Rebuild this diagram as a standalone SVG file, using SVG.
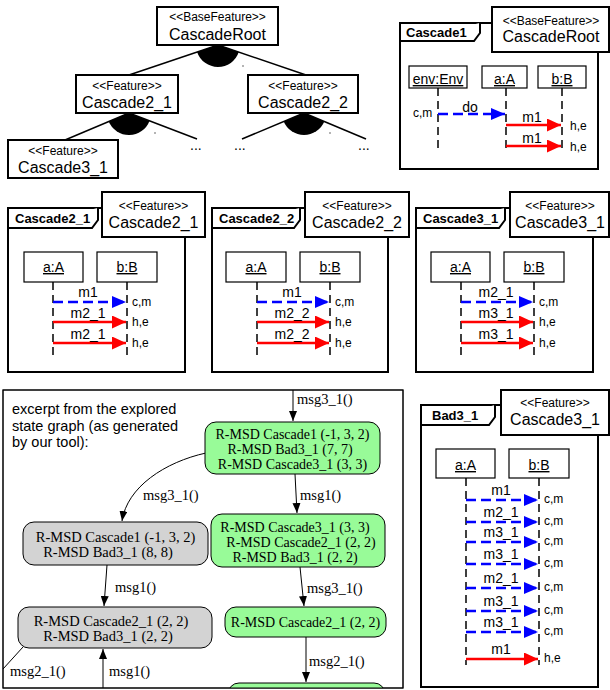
<svg xmlns="http://www.w3.org/2000/svg" width="610" height="690" viewBox="0 0 610 690">
<style>
.box{fill:#fff;stroke:#000;stroke-width:2}
.lb{fill:#fff;stroke:#000;stroke-width:1.2}
.frame{fill:none;stroke:#000;stroke-width:2}
.tabp{fill:#fff;stroke:#000;stroke-width:2}
.ll{stroke:#000;stroke-width:1.5;stroke-dasharray:8 5;fill:none}
.cold{stroke:#0000ff;stroke-width:2.5;stroke-dasharray:10 5;marker-end:url(#ab);fill:none}
.hot{stroke:#ff0000;stroke-width:2.5;marker-end:url(#ar);fill:none}
.tl{stroke:#000;stroke-width:1.5;fill:none}
.sec{fill:#000}
text{font-family:"Liberation Sans",Arial,sans-serif;fill:#000}
.st{font-size:12px;text-anchor:middle}
.nm{font-size:16px;text-anchor:middle}
.tab{font-size:13px;font-weight:bold}
.obj{font-size:14px;text-anchor:middle;text-decoration:underline}
.ml{font-size:14px;text-anchor:middle}
.hc{font-size:12px}
.dots{font-size:14px}
.gf{stroke:#000;stroke-width:1;fill:#98fb98}
.gg{stroke:#000;stroke-width:1;fill:#d3d3d3}
.ge{stroke:#000;stroke-width:1;fill:none;marker-end:url(#ak)}
.gt{font-family:"Liberation Serif","Times New Roman",serif;font-size:14px;text-anchor:middle}
.gtg{font-family:"Liberation Serif","Times New Roman",serif;font-size:14.5px;text-anchor:middle}
.el{font-family:"Liberation Serif","Times New Roman",serif;font-size:14.5px}
.note{font-size:14.5px}
</style>
<defs>
<marker id="ab" markerUnits="userSpaceOnUse" markerWidth="14" markerHeight="12" viewBox="0 0 14 12" refX="14" refY="6" orient="auto"><path d="M0,0 L14,6 L0,12 Z" fill="#0000ff"/></marker>
<marker id="ar" markerUnits="userSpaceOnUse" markerWidth="14" markerHeight="13" viewBox="0 0 14 13" refX="14" refY="6.5" orient="auto"><path d="M0,0 L14,6.5 L0,13 Z" fill="#ff0000"/></marker>
<marker id="ak" markerUnits="userSpaceOnUse" markerWidth="10" markerHeight="8" viewBox="0 0 10 8" refX="10" refY="4" orient="auto"><path d="M0,0 L10,4 L0,8 Z" fill="#000"/></marker>
<clipPath id="gclip"><rect x="3" y="390" width="400" height="298"/></clipPath>
</defs>

<!-- Feature tree -->
<g id="tree-connectors">
<line class="tl" x1="218" y1="45" x2="129" y2="75"/>
<line class="tl" x1="218" y1="45" x2="306" y2="75"/>
<path class="sec" d="M218,45 L197.1,52 A22,22 0 0 0 238.8,52.1 Z"/>
<line class="tl" x1="129" y1="113" x2="65" y2="140"/>
<line class="tl" x1="129" y1="113" x2="197" y2="139"/>
<path class="sec" d="M129,113 L108.7,121.6 A22,22 0 0 0 149.5,120.9 Z"/>
<line class="tl" x1="304" y1="113" x2="242" y2="139"/>
<line class="tl" x1="304" y1="113" x2="366" y2="139"/>
<path class="sec" d="M304,113 L283.7,121.5 A22,22 0 0 0 324.3,121.5 Z"/>
<circle cx="243" cy="66" r="0.8" fill="#555"/>
<circle cx="155" cy="133" r="0.8" fill="#555"/>
<circle cx="330" cy="133" r="0.8" fill="#555"/>
<text class="dots" x="190" y="150">...</text>
<text class="dots" x="234" y="150">...</text>
<text class="dots" x="358" y="150">...</text>
</g>
<g id="feat-root">
<rect class="box" x="157" y="7" width="121" height="38"/>
<text class="st" x="217.5" y="21">&lt;&lt;BaseFeature&gt;&gt;</text>
<text class="nm" x="217.5" y="40">CascadeRoot</text>
</g>
<g id="feat-c21">
<rect class="box" x="76" y="75" width="102" height="38"/>
<text class="st" x="127" y="90">&lt;&lt;Feature&gt;&gt;</text>
<text class="nm" x="127" y="108">Cascade2_1</text>
</g>
<g id="feat-c22">
<rect class="box" x="248" y="75" width="110" height="38"/>
<text class="st" x="303" y="90">&lt;&lt;Feature&gt;&gt;</text>
<text class="nm" x="303" y="108">Cascade2_2</text>
</g>
<g id="feat-c31">
<rect class="box" x="8" y="140" width="110" height="38"/>
<text class="st" x="63" y="155">&lt;&lt;Feature&gt;&gt;</text>
<text class="nm" x="63" y="173">Cascade3_1</text>
</g>

<!-- Cascade1 MSD -->
<g id="msd-cascade1">
<rect class="frame" x="400" y="23" width="198" height="146"/>
<path class="tabp" d="M400,41 H474 L480,33 V23"/>
<text class="tab" x="406" y="37">Cascade1</text>
<rect class="box" x="492" y="7" width="117" height="45"/>
<text class="st" x="551" y="25">&lt;&lt;BaseFeature&gt;&gt;</text>
<text class="nm" x="551" y="42">CascadeRoot</text>
<rect class="lb" x="409" y="66" width="58" height="22"/>
<rect class="lb" x="482" y="66" width="45" height="22"/>
<rect class="lb" x="538" y="66" width="48" height="22"/>
<text class="obj" x="438" y="84">env:Env</text>
<text class="obj" x="504.5" y="84">a:A</text>
<text class="obj" x="562" y="84">b:B</text>
<line class="ll" x1="438" y1="88" x2="438" y2="152"/>
<line class="ll" x1="506" y1="88" x2="506" y2="152"/>
<line class="ll" x1="562" y1="88" x2="562" y2="152"/>
<line class="cold" x1="438" y1="114" x2="505" y2="114"/>
<text class="ml" x="470" y="112">do</text>
<text class="hc" x="413" y="117">c,m</text>
<line class="hot" x1="506" y1="125" x2="561" y2="125"/>
<text class="ml" x="532" y="122">m1</text>
<text class="hc" x="570" y="130">h,e</text>
<line class="hot" x1="506" y1="146" x2="561" y2="146"/>
<text class="ml" x="532" y="143">m1</text>
<text class="hc" x="570" y="151">h,e</text>
</g>

<!-- Cascade2_1 MSD -->
<g id="msd-cascade2-1">
<rect class="frame" x="8" y="208" width="177" height="164"/>
<path class="tabp" d="M8,228 H92 L98,220 V208"/>
<text class="tab" x="15" y="223">Cascade2_1</text>
<rect class="box" x="102" y="192" width="103" height="45"/>
<text class="st" x="153.5" y="210">&lt;&lt;Feature&gt;&gt;</text>
<text class="nm" x="153.5" y="228">Cascade2_1</text>
<rect class="lb" x="24" y="252" width="59" height="30"/>
<rect class="lb" x="97" y="252" width="60" height="30"/>
<text class="obj" x="53.5" y="272">a:A</text>
<text class="obj" x="127" y="272">b:B</text>
<line class="ll" x1="53" y1="282" x2="53" y2="355"/>
<line class="ll" x1="127" y1="282" x2="127" y2="355"/>
<line class="cold" x1="53" y1="302" x2="126" y2="302"/>
<text class="ml" x="88" y="297">m1</text>
<text class="hc" x="132" y="306">c,m</text>
<line class="hot" x1="53" y1="322" x2="126" y2="322"/>
<text class="ml" x="88" y="318">m2_1</text>
<text class="hc" x="132" y="326">h,e</text>
<line class="hot" x1="53" y1="343" x2="126" y2="343"/>
<text class="ml" x="88" y="339">m2_1</text>
<text class="hc" x="132" y="347">h,e</text>
</g>

<!-- Cascade2_2 MSD -->
<g id="msd-cascade2-2">
<rect class="frame" x="212" y="208" width="176" height="164"/>
<path class="tabp" d="M212,228 H294 L300,220 V208"/>
<text class="tab" x="219" y="223">Cascade2_2</text>
<rect class="box" x="305" y="192" width="104" height="45"/>
<text class="st" x="357" y="210">&lt;&lt;Feature&gt;&gt;</text>
<text class="nm" x="357" y="228">Cascade2_2</text>
<rect class="lb" x="226" y="252" width="60" height="30"/>
<rect class="lb" x="300" y="252" width="60" height="30"/>
<text class="obj" x="256" y="272">a:A</text>
<text class="obj" x="330" y="272">b:B</text>
<line class="ll" x1="257" y1="282" x2="257" y2="355"/>
<line class="ll" x1="330" y1="282" x2="330" y2="355"/>
<line class="cold" x1="257" y1="302" x2="329" y2="302"/>
<text class="ml" x="292" y="297">m1</text>
<text class="hc" x="335" y="306">c,m</text>
<line class="hot" x1="257" y1="322" x2="329" y2="322"/>
<text class="ml" x="292" y="318">m2_2</text>
<text class="hc" x="335" y="326">h,e</text>
<line class="hot" x1="257" y1="343" x2="329" y2="343"/>
<text class="ml" x="292" y="339">m2_2</text>
<text class="hc" x="335" y="347">h,e</text>
</g>

<!-- Cascade3_1 MSD -->
<g id="msd-cascade3-1">
<rect class="frame" x="416" y="208" width="177" height="164"/>
<path class="tabp" d="M416,228 H499 L505,220 V208"/>
<text class="tab" x="423" y="223">Cascade3_1</text>
<rect class="box" x="510" y="192" width="99" height="45"/>
<text class="st" x="560" y="210">&lt;&lt;Feature&gt;&gt;</text>
<text class="nm" x="560" y="228">Cascade3_1</text>
<rect class="lb" x="431" y="252" width="59" height="30"/>
<rect class="lb" x="504" y="252" width="60" height="30"/>
<text class="obj" x="460.5" y="272">a:A</text>
<text class="obj" x="534" y="272">b:B</text>
<line class="ll" x1="461" y1="282" x2="461" y2="355"/>
<line class="ll" x1="534" y1="282" x2="534" y2="355"/>
<line class="cold" x1="461" y1="302" x2="533" y2="302"/>
<text class="ml" x="496" y="297">m2_1</text>
<text class="hc" x="539" y="306">c,m</text>
<line class="hot" x1="461" y1="322" x2="533" y2="322"/>
<text class="ml" x="496" y="318">m3_1</text>
<text class="hc" x="539" y="326">h,e</text>
<line class="hot" x1="461" y1="343" x2="533" y2="343"/>
<text class="ml" x="496" y="339">m3_1</text>
<text class="hc" x="539" y="347">h,e</text>
</g>

<!-- Bad3_1 MSD -->
<g id="msd-bad3-1">
<rect class="frame" x="421" y="405" width="177" height="282"/>
<path class="tabp" d="M421,425 H489 L495,417 V405"/>
<text class="tab" x="432" y="420">Bad3_1</text>
<rect class="box" x="501" y="390" width="108" height="45"/>
<text class="st" x="555" y="407">&lt;&lt;Feature&gt;&gt;</text>
<text class="nm" x="555" y="425">Cascade3_1</text>
<rect class="lb" x="436" y="449" width="59" height="29"/>
<rect class="lb" x="509" y="449" width="60" height="29"/>
<text class="obj" x="465.5" y="470">a:A</text>
<text class="obj" x="539" y="470">b:B</text>
<line class="ll" x1="466" y1="478" x2="466" y2="665"/>
<line class="ll" x1="539" y1="478" x2="539" y2="665"/>
<line class="cold" x1="466" y1="500" x2="538" y2="500"/>
<text class="ml" x="501" y="495">m1</text>
<text class="hc" x="544" y="503">c,m</text>
<line class="cold" x1="466" y1="522" x2="538" y2="522"/>
<text class="ml" x="501" y="517">m2_1</text>
<text class="hc" x="544" y="525">c,m</text>
<line class="cold" x1="466" y1="542" x2="538" y2="542"/>
<text class="ml" x="501" y="537">m3_1</text>
<text class="hc" x="544" y="545">c,m</text>
<line class="cold" x1="466" y1="564" x2="538" y2="564"/>
<text class="ml" x="501" y="559">m3_1</text>
<text class="hc" x="544" y="567">c,m</text>
<line class="cold" x1="466" y1="588" x2="538" y2="588"/>
<text class="ml" x="501" y="583">m2_1</text>
<text class="hc" x="544" y="591">c,m</text>
<line class="cold" x1="466" y1="611" x2="538" y2="611"/>
<text class="ml" x="501" y="606">m3_1</text>
<text class="hc" x="544" y="614">c,m</text>
<line class="cold" x1="466" y1="632" x2="538" y2="632"/>
<text class="ml" x="501" y="627">m3_1</text>
<text class="hc" x="544" y="635">c,m</text>
<line class="hot" x1="466" y1="659" x2="538" y2="659"/>
<text class="ml" x="501" y="654">m1</text>
<text class="hc" x="544" y="662">h,e</text>
</g>

<!-- State graph excerpt -->
<g id="state-graph">
<rect x="3" y="390" width="400" height="298" fill="#fff" stroke="#000" stroke-width="1"/>
<text class="note" x="12" y="414">excerpt from the explored</text>
<text class="note" x="12" y="430.5">state graph (as generated</text>
<text class="note" x="12" y="447">by our tool):</text>
<g clip-path="url(#gclip)">
<g id="graph-edges">
<line class="ge" x1="293" y1="390" x2="293" y2="421"/>
<text class="el" x="297" y="404">msg3_1()</text>
<path class="ge" d="M206,453 C165,462 127,487 122,521"/>
<text class="el" x="143" y="500">msg3_1()</text>
<line class="ge" x1="107" y1="565" x2="104" y2="606"/>
<text class="el" x="115" y="592">msg1()</text>
<line class="ge" x1="103" y1="688" x2="103" y2="649"/>
<text class="el" x="109" y="676">msg1()</text>
<line x1="23" y1="647" x2="3" y2="669" stroke="#000" stroke-width="1"/>
<text class="el" x="10" y="676">msg2_1()</text>
<line class="ge" x1="295" y1="474" x2="297" y2="513"/>
<text class="el" x="300" y="500">msg1()</text>
<line class="ge" x1="300" y1="567" x2="304" y2="606"/>
<text class="el" x="307" y="593">msg3_1()</text>
<line class="ge" x1="306" y1="637" x2="306" y2="682"/>
<text class="el" x="309" y="666">msg2_1()</text>
</g>
<g id="s-green1">
<rect class="gf" x="205" y="422" width="175" height="52" rx="11"/>
<text class="gt" x="292.5" y="439">R-MSD Cascade1 (-1, 3, 2)</text>
<text class="gt" x="290" y="454">R-MSD Bad3_1 (7, 7)</text>
<text class="gt" x="292.5" y="469">R-MSD Cascade3_1 (3, 3)</text>
</g>
<g id="s-green2">
<rect class="gf" x="211" y="514" width="174" height="53" rx="11"/>
<text class="gt" x="295" y="532">R-MSD Cascade3_1 (3, 3)</text>
<text class="gt" x="301" y="547">R-MSD Cascade2_1 (2, 2)</text>
<text class="gt" x="295" y="562">R-MSD Bad3_1 (2, 2)</text>
</g>
<g id="s-green3">
<rect class="gf" x="225" y="607" width="161" height="30" rx="11"/>
<text class="gt" x="305.5" y="627">R-MSD Cascade2_1 (2, 2)</text>
</g>
<g id="s-green4">
<rect class="gf" x="228" y="683" width="157" height="30" rx="11"/>
</g>
<g id="s-gray1">
<rect class="gg" x="23" y="522" width="185" height="43" rx="11"/>
<text class="gtg" x="115.5" y="542">R-MSD Cascade1 (-1, 3, 2)</text>
<text class="gtg" x="108" y="557">R-MSD Bad3_1 (8, 8)</text>
</g>
<g id="s-gray2">
<rect class="gg" x="18" y="607" width="194" height="41" rx="11"/>
<text class="gtg" x="111" y="626">R-MSD Cascade2_1 (2, 2)</text>
<text class="gtg" x="108" y="641">R-MSD Bad3_1 (2, 2)</text>
</g>
</g>
<rect x="3" y="390" width="400" height="298" fill="none" stroke="#000" stroke-width="1"/>
</g>
</svg>
